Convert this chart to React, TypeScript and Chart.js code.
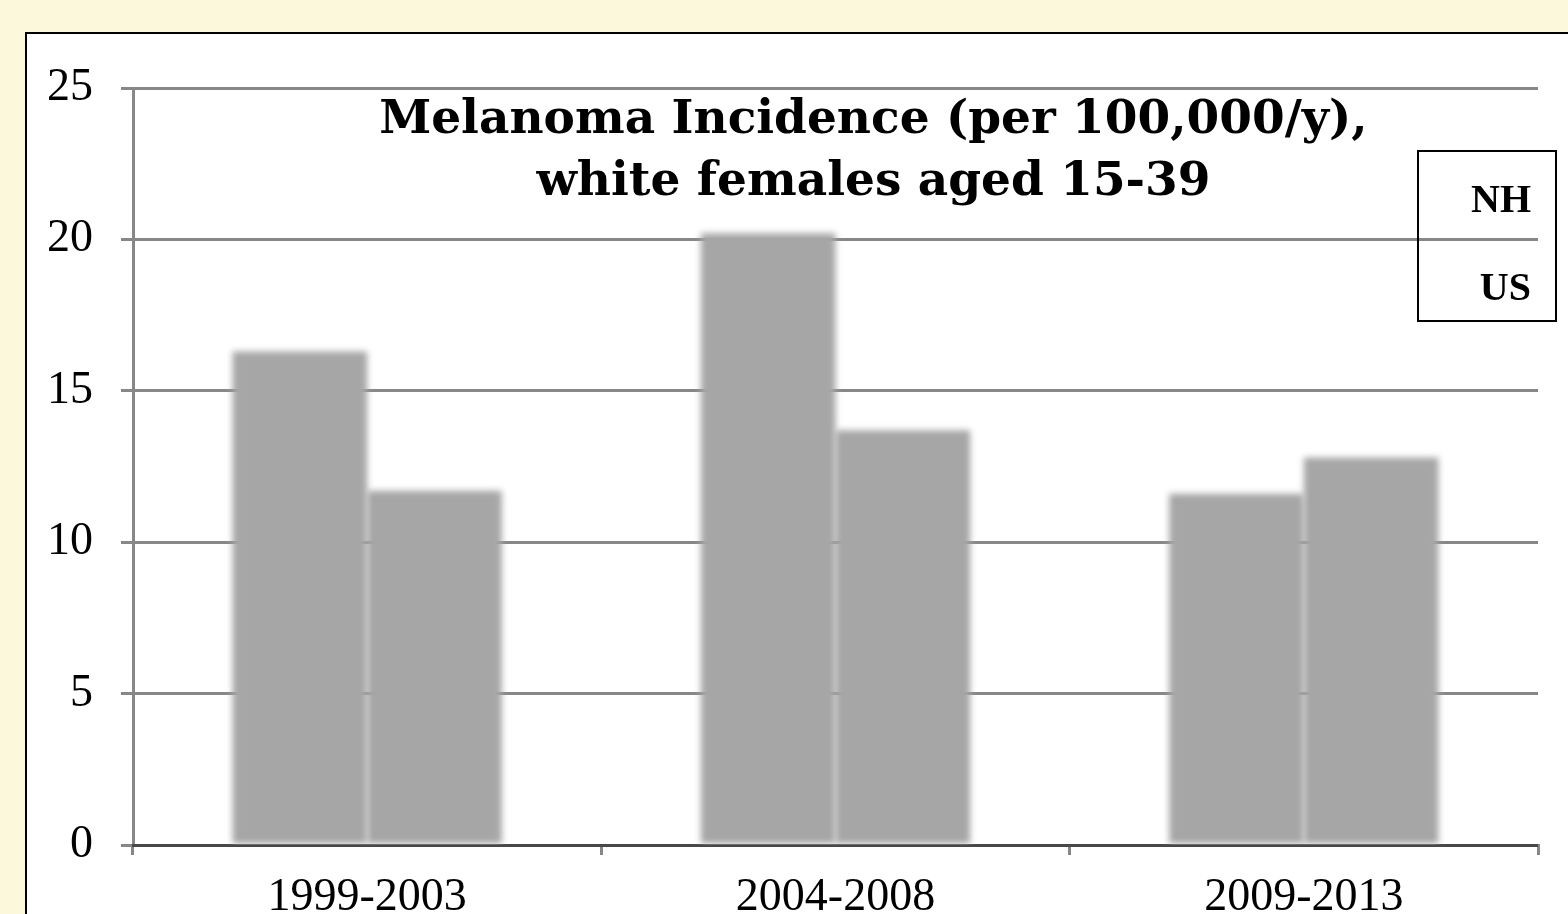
import React, { useEffect, useRef } from "react";
import { Chart, registerables } from "chart.js";

Chart.register(...registerables);

const categories = ["1999-2003", "2004-2008", "2009-2013"];
const seriesLabels = ["NH", "US"];
const nhValues = [16.3, 20.2, 11.6];
const usValues = [11.7, 13.7, 12.8];
const titleLines = ["Melanoma Incidence (per 100,000/y),", "white females aged 15-39"];
const yMin = 0;
const yMax = 25;
const yStep = 5;

const SERIF = "'Liberation Serif', 'Times New Roman', serif";
const TITLE_SERIF = "'DejaVu Serif', 'Liberation Serif', serif";
const GRID = "rgba(0,0,0,0.47)";
const BAR = "#A6A6A6";

const blurPlugin = {
  id: "blurBars",
  beforeDatasetsDraw(chart: any) {
    chart.ctx.save();
    chart.ctx.filter = "blur(3px)";
  },
  afterDatasetsDraw(chart: any) {
    chart.ctx.restore();
  },
};

const overlayPlugin = {
  id: "overlay",
  afterDraw(chart: any) {
    const ctx = chart.ctx as CanvasRenderingContext2D;
    const ca = chart.chartArea;
    ctx.save();
    // Title
    ctx.fillStyle = "#000";
    ctx.font = `bold 47px ${TITLE_SERIF}`;
    ctx.textAlign = "center";
    ctx.textBaseline = "alphabetic";
    const cx = ca.left + (ca.right - ca.left) * 0.527;
    ctx.fillText(titleLines[0], cx, ca.top + 45);
    ctx.fillText(titleLines[1], cx, ca.top + 107);
    // Legend box
    const bx = 1417, by = 150, bw = 140, bh = 172;
    ctx.lineWidth = 2;
    ctx.strokeStyle = "#000";
    ctx.strokeRect(bx + 1, by + 1, bw - 2, bh - 2);
    ctx.font = `bold 40px ${SERIF}`;
    ctx.textAlign = "right";
    ctx.textBaseline = "alphabetic";
    const labels = chart.data.datasets.map((d: any) => d.label);
    ctx.fillText(labels[0], bx + 114, by + 62);
    ctx.fillText(labels[1], bx + 114, by + 150);
    ctx.restore();
  },
};

export default function App() {
  const ref = useRef<HTMLCanvasElement | null>(null);

  useEffect(() => {
    if (!ref.current) return;
    const chart = new Chart(ref.current, {
      type: "bar",
      data: {
        labels: categories,
        datasets: [
          { label: seriesLabels[0], data: nhValues, backgroundColor: BAR, borderWidth: 0 },
          { label: seriesLabels[1], data: usValues, backgroundColor: BAR, borderWidth: 0 },
        ],
      },
      options: {
        animation: false,
        responsive: false,
        devicePixelRatio: 1,
        layout: { padding: { top: 88, right: 30, bottom: 0, left: 0 } },
        datasets: { bar: { categoryPercentage: 0.575, barPercentage: 1 } },
        plugins: {
          legend: { display: false },
          title: { display: false },
          tooltip: { enabled: false },
        },
        scales: {
          x: {
            z: 1,
            afterFit: (s: any) => { s.height = 69; },
            grid: {
              offset: true,
              drawOnChartArea: false,
              drawTicks: true,
              tickLength: 10,
              color: GRID,
              lineWidth: 3,
            },
            border: { display: true, color: GRID, width: 3 },
            ticks: {
              color: "#000",
              font: { family: SERIF, size: 46 },
              padding: 15,
              maxRotation: 0,
            },
          },
          y: {
            z: 1,
            min: yMin,
            max: yMax,
            afterFit: (s: any) => { s.width = 133; },
            grid: {
              drawTicks: true,
              tickLength: 12,
              color: GRID,
              lineWidth: 3,
            },
            border: { display: true, color: GRID, width: 3 },
            ticks: {
              stepSize: yStep,
              color: "#000",
              font: { family: SERIF, size: 46 },
              padding: 28,
            },
          },
        },
      },
      plugins: [blurPlugin, overlayPlugin],
    });
    return () => chart.destroy();
  }, []);

  return (
    <div style={{ position: "fixed", left: 0, top: 0, width: 1568, height: 914, background: "#FBF8DB", overflow: "hidden" }}>
      <div
        style={{
          position: "absolute",
          left: 25,
          top: 32,
          width: 1600,
          height: 1000,
          boxSizing: "border-box",
          border: "2px solid #000",
          background: "#fff",
        }}
      />
      <canvas ref={ref} width={1568} height={914} style={{ position: "absolute", left: 0, top: 0, width: 1568, height: 914 }} />
    </div>
  );
}
